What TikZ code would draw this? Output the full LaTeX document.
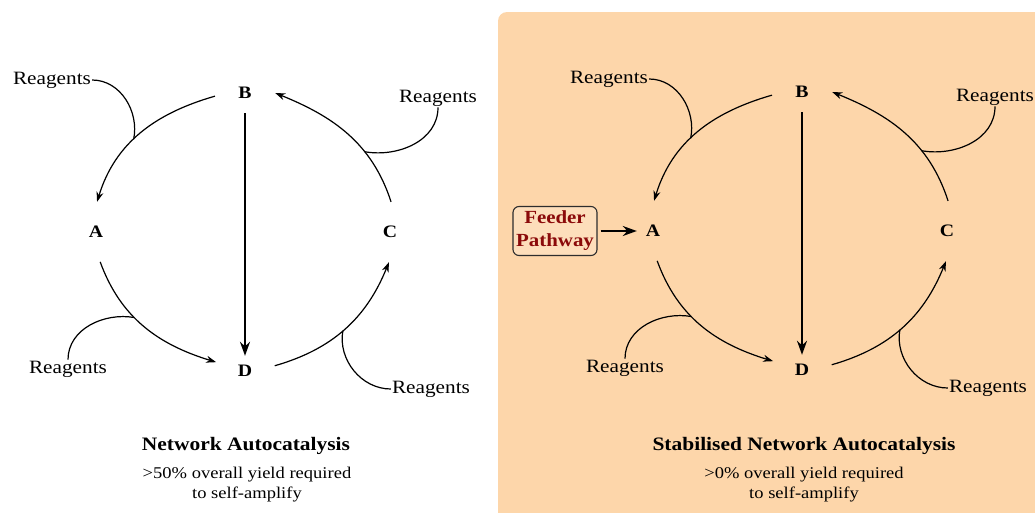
\documentclass[tikz,border=0pt]{standalone}
\usepackage{fontspec}
\setmainfont{Liberation Serif}[FakeStretch=1.13]
\usetikzlibrary{arrows.meta}
\definecolor{peach}{RGB}{253,214,170}
\definecolor{feederred}{RGB}{139,10,10}
\definecolor{boxgray}{RGB}{45,45,45}

\tikzset{
  species/.style={circle,minimum size=60pt,inner sep=0pt,font=\fontsize{17.5}{18}\selectfont\bfseries},
  reagent/.style={inner sep=1pt,font=\fontsize{18.8}{20}\selectfont},
  react/.style={->,line width=1.2pt},
  bigreact/.style={->,line width=2pt,>={Stealth[length=14pt,width=10pt]}},
  feed/.style={line width=1.2pt},
  title/.style={font=\fontsize{19}{20}\selectfont\bfseries},
  note/.style={align=center,font=\fontsize{16.4}{20}\selectfont},
  feeder/.style={draw=boxgray,line width=1.1pt,fill=peach!80!white,rounded corners=6pt,
    minimum width=84pt,minimum height=49pt,inner sep=2pt,align=center,text=feederred,
    font=\fontsize{18.5}{23}\selectfont\bfseries}
}

\newcommand{\autocycle}{%
  \node[species] (B) at (245,-93) {B};
  \node[species] (A) at (96,-232) {A};
  \node[species] (C) at (390,-232) {C};
  \node[species] (D) at (245,-371) {D};
  \node[reagent] (rBA) at (52,-80) {Reagents};
  \node[reagent] (rCB) at (438,-98) {Reagents};
  \node[reagent] (rAD) at (68,-369) {Reagents};
  \node[reagent] (rDC) at (431,-389) {Reagents};
  \draw[react] (B.186) to[out=196,in=73] coordinate[pos=0.56] (jBA) (A.88);
  \draw[react] (A.-82) to[out=-70,in=163] coordinate[pos=0.41] (jAD) (D.163);
  \draw[react] (D.10) to[out=16,in=-112] coordinate[pos=0.48] (jDC) (C.-92);
  \draw[react] (C.88) to[out=108,in=-22] coordinate[pos=0.34] (jCB) (B.0);
  \draw[bigreact,shorten <=-10pt,shorten >=-15pt] (B.south) -- (D.north);
  \draw[feed] (rBA.east) to[out=0,in=78] (jBA);
  \draw[feed] (rCB.south) to[out=-90,in=-10] (jCB);
  \draw[feed] (rAD.north) to[out=90,in=170] (jAD);
  \draw[feed] (rDC.west) to[out=180,in=-100] (jDC);
}

\begin{document}
\begin{tikzpicture}[x=1pt,y=1pt,>={Stealth[length=10pt,width=7pt]}]
  \useasboundingbox (0,0) rectangle (1035,-512);
  \fill[peach,rounded corners=9pt] (498,-12) rectangle (1050,-530);

  \begin{scope}[name prefix=l-]
    \autocycle
  \end{scope}
  \begin{scope}[shift={(557,1)},name prefix=r-]
    \autocycle
  \end{scope}

  \node[feeder] (feed) at (555,-231) {Feeder\\Pathway};
  \draw[bigreact,shorten <=3pt,shorten >=-14pt] (feed.east) -- (r-A.west);

  \node[title] (ltitle) at (246,-446) {Network Autocatalysis};
  \node[note] (lnote) at (247,-485) {>50\% overall yield required\\to self-amplify};
  \node[title] (rtitle) at (804,-446) {Stabilised Network Autocatalysis};
  \node[note] (rnote) at (804,-485) {>0\% overall yield required\\to self-amplify};
\end{tikzpicture}
\end{document}
